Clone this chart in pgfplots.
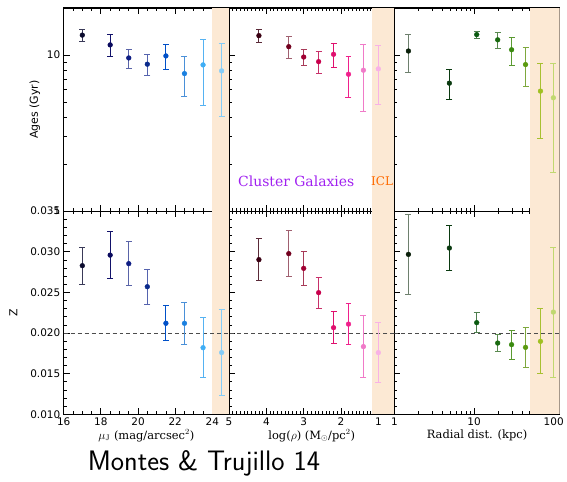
\documentclass[border=0pt]{standalone}
\usepackage{fontspec}
\usepackage{pgfplots}
\pgfplotsset{compat=1.18}
\usepgfplotslibrary{groupplots}
\usetikzlibrary{calc}

\newfontfamily\ticksf{DejaVu Sans}
\newfontfamily\labrm{DejaVu Serif}

% shaded ICL region
\definecolor{shade}{HTML}{FCE9D4}
\definecolor{cgal}{HTML}{A020F0}
\definecolor{iclc}{HTML}{FF6A00}
% surface-brightness bins (mark / error bar)
\definecolor{L1}{HTML}{0B0B2E}\definecolor{eL1}{HTML}{3A3A58}
\definecolor{L2}{HTML}{0A0A5E}\definecolor{eL2}{HTML}{12126A}
\definecolor{L3}{HTML}{0F1E84}\definecolor{eL3}{HTML}{5A64A8}
\definecolor{L4}{HTML}{0A2A8C}\definecolor{eL4}{HTML}{5563AE}
\definecolor{L5}{HTML}{0050C8}\definecolor{eL5}{HTML}{0050C8}
\definecolor{L6}{HTML}{1A80E0}\definecolor{eL6}{HTML}{4A90D8}
\definecolor{L7}{HTML}{40AEF5}\definecolor{eL7}{HTML}{55B2F2}
\definecolor{L8}{HTML}{85CDF8}\definecolor{eL8}{HTML}{85CDF8}
% density bins
\definecolor{M1}{HTML}{3A0012}\definecolor{eM1}{HTML}{5A2A38}
\definecolor{M2}{HTML}{72001E}\definecolor{eM2}{HTML}{A06070}
\definecolor{M3}{HTML}{A00032}\definecolor{eM3}{HTML}{A83A58}
\definecolor{M4}{HTML}{C8004C}\definecolor{eM4}{HTML}{C8306A}
\definecolor{M5}{HTML}{E0106E}\definecolor{eM5}{HTML}{E0106E}
\definecolor{M6}{HTML}{F0208C}\definecolor{eM6}{HTML}{F0208C}
\definecolor{M7}{HTML}{F07AC8}\definecolor{eM7}{HTML}{F07AC8}
\definecolor{M8}{HTML}{F8B2E6}\definecolor{eM8}{HTML}{F8B2E6}
% radial bins
\definecolor{R1}{HTML}{0A200A}\definecolor{eR1}{HTML}{6E806E}
\definecolor{R2}{HTML}{0A3A10}\definecolor{eR2}{HTML}{0A3A10}
\definecolor{R3}{HTML}{0A5A10}\definecolor{eR3}{HTML}{4E7E4E}
\definecolor{R4}{HTML}{1A6A10}\definecolor{eR4}{HTML}{5A8A50}
\definecolor{R5}{HTML}{3A8A10}\definecolor{eR5}{HTML}{5A9A30}
\definecolor{R6}{HTML}{5A9A10}\definecolor{eR6}{HTML}{7EA83E}
\definecolor{R7}{HTML}{A0C020}\definecolor{eR7}{HTML}{A8C030}
\definecolor{R8}{HTML}{C0D870}\definecolor{eR8}{HTML}{C0D870}

\pgfplotsset{
  panel/.style={
    scale only axis, width=166pt, height=204pt,
    axis line style={line width=1.1pt},
    every tick/.style={black, line width=0.8pt},
    major tick length=6pt, minor tick length=3pt,
    tick align=inside,
    tick label style={font=\ticksf\fontsize{10.5}{12}\selectfont},
    /pgf/number format/assume math mode=true,
    xlabel style={font=\labrm\fontsize{11.5}{13}\selectfont, yshift=3pt},
    ylabel style={font=\ticksf\fontsize{11}{13}\selectfont},
  },
  pt/.style 2 args={only marks, mark=*, mark size=2.4pt,
    mark options={draw=#1, fill=#1},
    error bars/.cd, y dir=both, y explicit,
    error bar style={draw=#2, line width=1pt},
    error mark options={draw=#2, mark size=3pt, line width=1pt, rotate=90}},
  icl/.style={fill=shade, draw=none, forget plot},
  zsun/.style={dash pattern=on 4pt off 3pt, line width=0.9pt, color=black!70},
}

\begin{document}
\begin{tikzpicture}
\begin{groupplot}[
  group style={group size=3 by 2, horizontal sep=0pt, vertical sep=0pt,
    x descriptions at=edge bottom, y descriptions at=edge left},
  panel]

% ---- ages vs surface brightness
\nextgroupplot[ymode=log, ymin=1, ymax=20, ytick={1,10}, log ticks with fixed point,
  minor ytick={2,3,4,5,6,7,8,9,20},
  xmin=16, xmax=24.9, xtick={16,18,...,24}, minor xtick={16.5,17,...,24.5},
  ylabel={Ages (Gyr)}]
\coordinate (TL) at (rel axis cs:0,1);
\addplot[icl] coordinates {(24,1) (24.9,1) (24.9,20) (24,20)} -- cycle;
\addplot[pt={L1}{eL1}] coordinates {(17,13.4) +- (0,1.15)};
\addplot[pt={L2}{eL2}] coordinates {(18.5,11.6) +- (0,1.85)};
\addplot[pt={L3}{eL3}] coordinates {(19.5,9.57) +- (0,1.32)};
\addplot[pt={L4}{eL4}] coordinates {(20.5,8.73) +- (0,1.3)};
\addplot[pt={L5}{eL5}] coordinates {(21.5,9.86) +- (0,1.8)};
\addplot[pt={L6}{eL6}] coordinates {(22.5,7.6) +- (0,2.2)};
\addplot[pt={L7}{eL7}] coordinates {(23.5,8.64) +- (0,3.86)};
\addplot[pt={L8}{eL8}] coordinates {(24.5,7.91) +- (0,3.87)};

% ---- ages vs density
\nextgroupplot[ymode=log, ymin=1, ymax=20, ytick={1,10}, log ticks with fixed point,
  minor ytick={2,3,4,5,6,7,8,9,20},
  x dir=reverse, xmin=0.57, xmax=5, xtick={1,2,3,4,5}, minor x tick num=9]
\addplot[icl] coordinates {(0.57,1) (1.18,1) (1.18,20) (0.57,20)} -- cycle;
\addplot[pt={M1}{eM1}] coordinates {(4.2,13.3) +- (0,1.22)};
\addplot[pt={M2}{eM2}] coordinates {(3.4,11.3) +- (0,1.85)};
\addplot[pt={M3}{eM3}] coordinates {(3.0,9.7) +- (0,1.17)};
\addplot[pt={M4}{eM4}] coordinates {(2.6,9.06) +- (0,1.41)};
\addplot[pt={M5}{eM5}] coordinates {(2.2,10.1) +- (0,1.78)};
\addplot[pt={M6}{eM6}] coordinates {(1.8,7.53) +- (0,2.2)};
\addplot[pt={M7}{eM7}] coordinates {(1.4,7.99) +- (0,3.65)};
\addplot[pt={M8}{eM8}] coordinates {(1.0,8.15) +- (0,3.35)};
\node[font=\labrm\fontsize{14}{16}\selectfont, text=cgal] at (axis cs:3.2,1.55) {Cluster Galaxies};
\node[font=\labrm\fontsize{12}{14}\selectfont, text=iclc] at (axis cs:0.9,1.55) {ICL};

% ---- ages vs radial distance
\nextgroupplot[ymode=log, ymin=1, ymax=20, ytick={1,10}, log ticks with fixed point,
  minor ytick={2,3,4,5,6,7,8,9,20},
  xmode=log, xmin=1, xmax=119, xtick={1,10,100},
  minor xtick={2,3,4,5,6,7,8,9,20,30,40,50,60,70,80,90}]
\addplot[icl] coordinates {(50,1) (119,1) (119,20) (50,20)} -- cycle;
\addplot[pt={R1}{eR1}] coordinates {(1.5,10.6) +- (0,2.9)};
\addplot[pt={R2}{eR2}] coordinates {(4.9,6.6) +- (0,1.45)};
\addplot[pt={R3}{eR3}] coordinates {(10.8,13.5) +- (0,0.7)};
\addplot[pt={R4}{eR4}] coordinates {(19.8,12.5) +- (0,1.5)};
\addplot[pt={R5}{eR5}] coordinates {(29.6,10.8) +- (0,2.2)};
\addplot[pt={R6}{eR6}] coordinates {(44.3,8.68) +- (0,2.43)};
\addplot[pt={R7}{eR7}] coordinates {(68.2,5.87) +- (0,2.93)};
\addplot[pt={R8}{eR8}] coordinates {(99,5.32) +- (0,3.54)};

% ---- metallicity vs surface brightness
\nextgroupplot[ymin=0.010, ymax=0.035, ytick={0.010,0.015,...,0.035}, minor y tick num=4,
  yticklabel style={/pgf/number format/.cd, fixed, fixed zerofill, precision=3},
  scaled y ticks=false,
  xmin=16, xmax=24.9, xtick={16,18,...,24}, minor xtick={16.5,17,...,24.5},
  ylabel={Z}, ylabel style={yshift=6pt},
  xlabel={$\mu_{\mathrm{J}}$ (mag/arcsec$^{2}$)}]
\coordinate (BL) at (rel axis cs:0,0);
\addplot[icl] coordinates {(24,0.010) (24.9,0.010) (24.9,0.035) (24,0.035)} -- cycle;
\addplot[zsun, forget plot] coordinates {(16,0.02) (24.9,0.02)};
\addplot[pt={L1}{eL1}] coordinates {(17,0.02829) +- (0,0.00227)};
\addplot[pt={L2}{eL2}] coordinates {(18.5,0.02959) +- (0,0.0029)};
\addplot[pt={L3}{eL3}] coordinates {(19.5,0.02854) +- (0,0.0027)};
\addplot[pt={L4}{eL4}] coordinates {(20.5,0.0257) +- (0,0.00213)};
\addplot[pt={L5}{eL5}] coordinates {(21.5,0.0212) +- (0,0.00213)};
\addplot[pt={L6}{eL6}] coordinates {(22.5,0.0212) +- (0,0.0026)};
\addplot[pt={L7}{eL7}] coordinates {(23.5,0.0182) +- (0,0.00367)};
\addplot[pt={L8}{eL8}] coordinates {(24.5,0.0176) +- (0,0.0053)};

% ---- metallicity vs density
\nextgroupplot[ymin=0.010, ymax=0.035, ytick={0.010,0.015,...,0.035}, minor y tick num=4,
  x dir=reverse, xmin=0.57, xmax=5, xtick={1,2,3,4,5}, minor x tick num=9,
  xlabel={log($\rho$) (M$_{\odot}$/pc$^{2}$)}]
\addplot[icl] coordinates {(0.57,0.010) (1.18,0.010) (1.18,0.035) (0.57,0.035)} -- cycle;
\addplot[zsun, forget plot] coordinates {(0.57,0.02) (5,0.02)};
\addplot[pt={M1}{eM1}] coordinates {(4.2,0.02903) +- (0,0.0026)};
\addplot[pt={M2}{eM2}] coordinates {(3.4,0.02977) +- (0,0.0028)};
\addplot[pt={M3}{eM3}] coordinates {(3.0,0.02796) +- (0,0.0021)};
\addplot[pt={M4}{eM4}] coordinates {(2.6,0.02497) +- (0,0.0019)};
\addplot[pt={M5}{eM5}] coordinates {(2.2,0.02066) +- (0,0.00195)};
\addplot[pt={M6}{eM6}] coordinates {(1.8,0.0211) +- (0,0.00256)};
\addplot[pt={M7}{eM7}] coordinates {(1.4,0.01833) +- (0,0.00377)};
\addplot[pt={M8}{eM8}] coordinates {(1.0,0.01759) +- (0,0.00365)};

% ---- metallicity vs radial distance
\nextgroupplot[ymin=0.010, ymax=0.035, ytick={0.010,0.015,...,0.035}, minor y tick num=4,
  xmode=log, xmin=1, xmax=119, xtick={1,10,100}, log ticks with fixed point,
  minor xtick={2,3,4,5,6,7,8,9,20,30,40,50,60,70,80,90},
  xlabel={Radial dist. (kpc)}]
\coordinate (BR) at (rel axis cs:1,0);
\addplot[icl] coordinates {(50,0.010) (119,0.010) (119,0.035) (50,0.035)} -- cycle;
\addplot[zsun, forget plot] coordinates {(1,0.02) (119,0.02)};
\addplot[pt={R1}{eR1}] coordinates {(1.5,0.02968) +- (0,0.0049)};
\addplot[pt={R2}{eR2}] coordinates {(4.9,0.03046) +- (0,0.00275)};
\addplot[pt={R3}{eR3}] coordinates {(10.8,0.02128) +- (0,0.0012)};
\addplot[pt={R4}{eR4}] coordinates {(19.8,0.01877) +- (0,0.001)};
\addplot[pt={R5}{eR5}] coordinates {(29.6,0.01857) +- (0,0.0018)};
\addplot[pt={R6}{eR6}] coordinates {(44.3,0.01824) +- (0,0.00246)};
\addplot[pt={R7}{eR7}] coordinates {(68.2,0.01898) +- (0,0.004)};
\addplot[pt={R8}{eR8}] coordinates {(99,0.02258) +- (0,0.008)};
\end{groupplot}

\node[anchor=base west, inner sep=0pt, font=\sffamily\fontsize{28.3}{32}\selectfont]
  at ($(BL)+(24pt,-56pt)$) {Montes \& Trujillo 14};
% page frame
\path ($(TL)+(-64pt,8pt)$) rectangle ($(BR)+(5pt,-67pt)$);
\end{tikzpicture}
\end{document}
